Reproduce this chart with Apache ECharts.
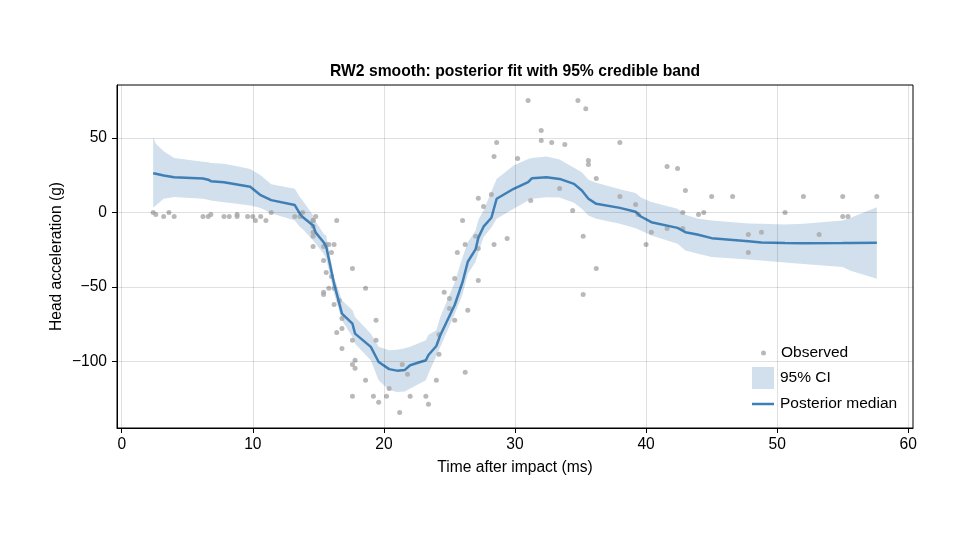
<!DOCTYPE html>
<html>
<head>
<meta charset="utf-8">
<script src="https://cdn.jsdelivr.net/npm/echarts@6/dist/echarts.min.js"></script>
<style>
  html, body { margin: 0; padding: 0; background: #fff; }
  #chart { width: 960px; height: 540px; }
</style>
</head>
<body>
<div id="chart"></div>
<script>
// observed points (time in ms, head acceleration in g)
const obsTime = [
  2.4, 2.6, 3.2, 3.6, 4.0, 6.2, 6.6, 6.8, 7.8, 8.2,
  8.8, 8.8, 9.6, 10.0, 10.2, 10.6, 11.0, 11.4, 13.2, 13.6,
  13.8, 14.6, 14.6, 14.6, 14.6, 14.6, 14.6, 14.8, 15.4, 15.4,
  15.4, 15.4, 15.6, 15.6, 15.8, 15.8, 16.0, 16.0, 16.2, 16.2,
  16.2, 16.4, 16.4, 16.6, 16.8, 16.8, 16.8, 17.6, 17.6, 17.6,
  17.6, 17.8, 17.8, 18.6, 18.6, 19.2, 19.4, 19.4, 19.6, 20.2,
  20.4, 21.2, 21.4, 21.8, 22.0, 23.2, 23.4, 24.0, 24.2, 24.2,
  24.6, 25.0, 25.0, 25.4, 25.4, 25.6, 26.0, 26.2, 26.2, 26.4,
  27.0, 27.2, 27.2, 27.2, 27.6, 28.2, 28.4, 28.4, 28.6, 29.4,
  30.2, 31.0, 31.2, 32.0, 32.0, 32.8, 33.4, 33.8, 34.4, 34.8,
  35.2, 35.2, 35.4, 35.6, 35.6, 36.2, 36.2, 38.0, 38.0, 39.2,
  39.4, 40.0, 40.4, 41.6, 41.6, 42.4, 42.8, 42.8, 43.0, 44.0,
  44.4, 45.0, 46.6, 47.8, 47.8, 48.8, 50.6, 52.0, 53.2, 55.0,
  55.0, 55.4, 57.6
];
const obsAccel = [
  0.0, -1.3, -2.7, 0.0, -2.7, -2.7, -2.7, -1.3, -2.7, -2.7,
  -1.3, -2.7, -2.7, -2.7, -5.4, -2.7, -5.4, 0.0, -2.7, -2.7,
  0.0, -13.3, -5.4, -5.4, -9.3, -16.0, -22.8, -2.7, -22.8, -32.1,
  -53.5, -54.9, -40.2, -21.5, -21.5, -50.8, -42.9, -26.8, -21.5, -50.8,
  -61.7, -5.4, -80.4, -59.0, -71.0, -91.1, -77.7, -37.5, -85.6, -123.1,
  -101.9, -99.1, -104.4, -112.5, -50.8, -123.1, -85.6, -72.3, -127.2, -123.1,
  -117.9, -134.0, -101.9, -108.4, -123.1, -123.1, -128.5, -112.5, -95.1, -81.8,
  -53.5, -64.4, -57.6, -72.3, -44.3, -26.8, -5.4, -107.1, -21.5, -65.6,
  -16.0, -45.6, -24.2, 9.5, 4.0, 12.0, -21.5, 37.5, 46.9, -17.4,
  36.2, 75.0, 8.1, 54.9, 48.2, 46.9, 16.0, 45.6, 1.3, 75.0,
  -16.0, -54.9, 69.6, 34.8, 32.1, -37.5, 22.8, 46.9, 10.7, 5.4,
  -1.3, -21.5, -13.3, 30.8, -10.7, 29.4, 0.0, -10.7, 14.7, -1.3,
  0.0, 10.7, 10.7, -26.8, -14.7, -13.3, 0.0, 10.7, -14.7, -2.7,
  10.7, -2.7, 10.7
];

// posterior fit
const fitTime = [
  2.4, 2.6, 3.2, 4.0, 6.2, 6.6, 6.8, 7.8, 8.8, 9.8,
  10.6, 11.4, 13.2, 13.6, 13.8, 14.6, 14.8, 15.4, 15.6, 16.2,
  16.8, 17.6, 17.8, 19.0, 19.6, 20.4, 21.0, 21.6, 22.0, 23.2,
  23.4, 24.0, 24.3, 25.4, 26.0, 26.4, 27.0, 27.2, 27.6, 28.2,
  28.6, 29.9, 31.0, 31.3, 32.4, 33.4, 34.5, 35.1, 35.6, 36.2,
  38.0, 39.2, 39.6, 40.4, 42.4, 43.0, 43.9, 45.0, 47.8, 48.8,
  50.6, 52.0, 55.0, 55.6, 57.6
];
const fitMedian = [
  26.3, 26.0, 24.8, 23.6, 22.8, 22.0, 21.0, 20.3, 18.8, 17.2,
  11.6, 8.3, 5.0, -1.0, -3.0, -8.7, -13.5, -19.9, -23.0, -47.7,
  -67.8, -74.5, -81.2, -90.1, -100.2, -105.0, -106.0, -105.5, -102.4, -99.0,
  -95.5, -89.5, -82.3, -62.0, -46.6, -33.0, -24.5, -17.0, -9.5, -3.5,
  9.2, 15.9, 20.3, 23.0, 23.6, 22.5, 19.2, 14.7, 9.2, 5.8,
  3.1, 0.5, -2.7, -6.5, -10.3, -13.2, -14.7, -17.2, -19.3, -20.1,
  -20.5, -20.6, -20.5, -20.4, -20.3
];
const fitLower = [
  3.1, 4.7, 9.2, 10.3, 9.2, 8.5, 8.0, 6.9, 5.8, 4.7,
  3.0, -0.5, -5.4, -9.8, -11.0, -18.7, -21.0, -27.6, -31.0, -54.4,
  -72.3, -83.5, -88.0, -99.0, -112.4, -119.0, -120.3, -120.0, -118.0, -112.4,
  -108.0, -96.0, -90.1, -68.0, -55.0, -41.0, -33.0, -27.0, -16.5, -10.0,
  -4.2, 2.5, 8.0, 9.2, 10.2, 10.0, 6.5, 2.5, -2.0, -4.2,
  -7.6, -10.5, -12.0, -15.4, -21.0, -25.4, -27.5, -29.9, -31.5, -32.1,
  -33.5, -34.5, -36.5, -39.0, -44.4
];
const fitUpper = [
  50.4, 46.0, 41.0, 36.5, 34.0, 33.6, 33.2, 32.6, 31.0, 29.2,
  25.0, 19.0, 15.9, 10.2, 8.0, -2.0, -6.0, -14.3, -15.4, -43.3,
  -58.9, -65.6, -70.0, -81.2, -90.0, -92.4, -92.0, -91.0, -90.0, -85.7,
  -82.0, -79.0, -70.0, -47.0, -30.0, -20.0, -12.0, -5.0, 1.3, 14.0,
  22.5, 31.5, 35.9, 36.5, 37.5, 35.5, 30.0, 27.0, 22.0, 20.0,
  15.5, 13.0, 10.0, 7.0, 2.5, -1.5, -4.0, -5.4, -7.3, -7.6,
  -8.0, -7.5, -5.4, -3.5, 3.5
];

const xTicks = [0, 10, 20, 30, 40, 50, 60];
const yTicks = [-100, -50, 0, 50];

const bandColor = '#d1e0ec';
const lineColor = '#3f7fb6';
const pointColor = '#a8a8a8';
const gridColor = 'rgba(0,0,0,0.12)';
const font = 'Liberation Sans, Arial, sans-serif';

const chart = echarts.init(document.getElementById('chart'));

const scatterData = obsTime.map((t, i) => [t, obsAccel[i]]);
const bandData = fitTime.map((t, i) => [t, fitLower[i], fitUpper[i]]);
const medianData = fitTime.map((t, i) => [t, fitMedian[i]]);

const minus = (v) => String(v).replace('-', '\u2212');

// whole band drawn as one polygon: upper edge left->right, lower edge back
function renderBand(params, api) {
  if (params.dataIndex !== 0) return null;
  const top = bandData.map((d) => api.coord([d[0], d[2]]));
  const bottom = bandData.map((d) => api.coord([d[0], d[1]])).reverse();
  return {
    type: 'polygon',
    shape: { points: top.concat(bottom) },
    style: { fill: bandColor }
  };
}

const legendBase = {
  orient: 'vertical',
  padding: 0,
  itemGap: 0,
  selectedMode: false,
  textStyle: { fontFamily: font, fontSize: 15.5, color: '#000', padding: [0, 0, 0, 1] }
};

const option = {
  animation: false,
  backgroundColor: '#fff',
  title: {
    text: 'RW2 smooth: posterior fit with 95% credible band',
    left: 330,
    top: 64,
    padding: 0,
    textStyle: { fontFamily: font, fontSize: 15.7, fontWeight: 'bold', color: '#000' }
  },
  legend: [
    Object.assign({}, legendBase, {
      left: 761,
      top: 345,
      itemWidth: 5,
      itemHeight: 5,
      textStyle: Object.assign({}, legendBase.textStyle, { padding: [0, 0, 0, 10] }),
      data: [{ name: 'Observed', icon: 'circle', itemStyle: { color: pointColor } }]
    }),
    Object.assign({}, legendBase, {
      left: 752,
      top: 367,
      itemWidth: 22,
      itemHeight: 22,
      data: [{ name: '95% CI', icon: 'rect', itemStyle: { color: bandColor } }]
    }),
    Object.assign({}, legendBase, {
      left: 752,
      top: 396,
      itemWidth: 22,
      itemHeight: 2.5,
      data: [{ name: 'Posterior median', icon: 'rect', itemStyle: { color: lineColor } }]
    })
  ],
  grid: {
    left: 117,
    right: 47,
    top: 85,
    bottom: 112,
    show: true,
    borderColor: '#000',
    borderWidth: 1,
    backgroundColor: 'transparent'
  },
  xAxis: {
    type: 'value',
    min: -0.36,
    max: 60.36,
    name: 'Time after impact (ms)',
    nameLocation: 'middle',
    nameGap: 32,
    nameMoveOverlap: false,
    nameTextStyle: { fontFamily: font, fontSize: 15.6, color: '#000' },
    axisLine: { show: true, onZero: false, lineStyle: { color: '#000', width: 1 } },
    axisTick: { show: true, customValues: xTicks, length: 5, lineStyle: { color: '#000' } },
    axisLabel: {
      customValues: xTicks,
      margin: 9,
      fontFamily: font,
      fontSize: 15.6,
      color: '#000',
      formatter: minus
    },
    splitLine: { show: false }
  },
  yAxis: {
    type: 'value',
    min: -144.45,
    max: 85.45,
    name: 'Head acceleration (g)',
    nameLocation: 'middle',
    nameGap: 52,
    nameMoveOverlap: false,
    nameTextStyle: { fontFamily: font, fontSize: 15.6, color: '#000' },
    axisLine: { show: true, onZero: false, lineStyle: { color: '#000', width: 1 } },
    axisTick: { show: true, customValues: yTicks, length: 5, lineStyle: { color: '#000' } },
    axisLabel: {
      customValues: yTicks,
      margin: 10,
      fontFamily: font,
      fontSize: 15.6,
      color: '#000',
      formatter: minus
    },
    splitLine: { show: false }
  },
  series: [
    {
      // grid lines at the tick positions
      name: 'grid',
      type: 'line',
      data: [],
      silent: true,
      z: 0,
      markLine: {
        symbol: 'none',
        silent: true,
        animation: false,
        label: { show: false },
        lineStyle: { color: gridColor, width: 1, type: 'solid' },
        data: xTicks.map((v) => ({ xAxis: v })).concat(yTicks.map((v) => ({ yAxis: v })))
      }
    },
    {
      name: '95% CI',
      type: 'custom',
      data: bandData,
      encode: { x: 0, y: [1, 2] },
      renderItem: renderBand,
      silent: true,
      itemStyle: { color: bandColor },
      z: 1
    },
    {
      name: 'Observed',
      type: 'scatter',
      data: scatterData,
      symbolSize: 5,
      silent: true,
      itemStyle: { color: pointColor },
      z: 2
    },
    {
      name: 'Posterior median',
      type: 'line',
      data: medianData,
      showSymbol: false,
      silent: true,
      itemStyle: { color: lineColor },
      lineStyle: { color: lineColor, width: 2.5 },
      z: 3
    }
  ]
};

chart.setOption(option);
window.addEventListener('resize', () => chart.resize());
</script>
</body>
</html>
